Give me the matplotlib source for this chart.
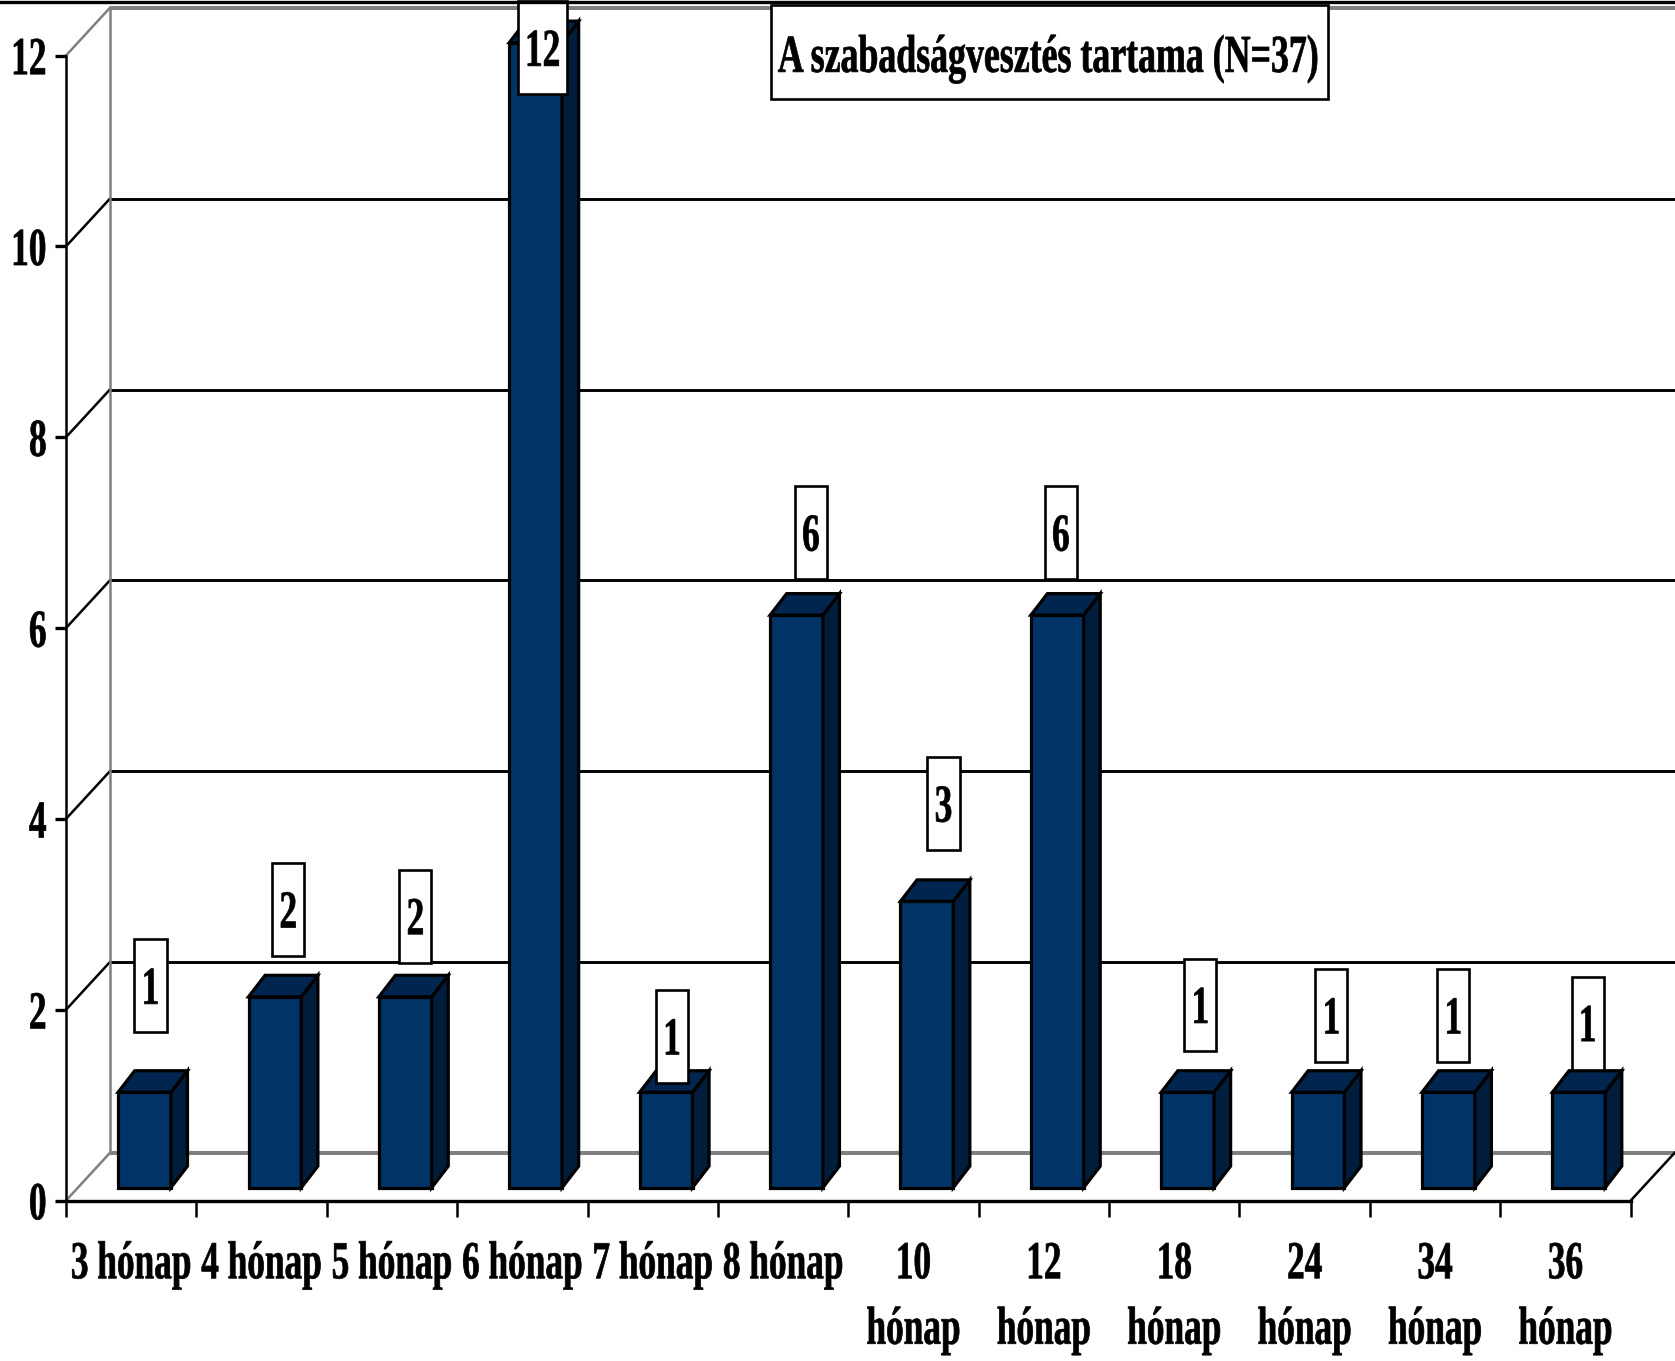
import matplotlib
matplotlib.use("Agg")
import matplotlib.pyplot as plt
from matplotlib.lines import Line2D
from matplotlib.patches import Polygon, Rectangle
from matplotlib.patheffects import AbstractPathEffect
from matplotlib.transforms import Affine2D

categories = ["3 hónap", "4 hónap", "5 hónap", "6 hónap", "7 hónap", "8 hónap",
              "10\nhónap", "12\nhónap", "18\nhónap", "24\nhónap", "34\nhónap", "36\nhónap"]
values = [1, 2, 2, 12, 1, 6, 3, 6, 1, 1, 1, 1]
y_ticks = [0, 2, 4, 6, 8, 10, 12]
title = "A szabadságvesztés tartama (N=37)"

# where the value boxes sit relative to their bar (the original has them hand placed)
label_x = [0.648, 0.705, 0.68, 0.656, 0.648, 0.713, 0.73, 0.63, 0.70, 0.705, 0.64, 0.67]
label_dy = [1.25, 1.05, 0.98, 0.08, 0.72, 1.0, 1.16, 1.0, 1.05, 0.94, 0.94, 0.86]

# fake 3d settings, in data units
wall_dx, wall_dy = 0.337, 0.5
bar_dx, bar_dy = 0.127, 0.225
bar_left, bar_width, bar_base = 0.40, 0.405, 0.136

front_color = "#003366"
side_color = "#001E3C"
top_color = "#00264F"
grey = "#808080"


class Tall(AbstractPathEffect):
    # the original text is a condensed Times bold: keep the width of a small
    # font and stretch the glyphs upward around the middle of the digits
    def __init__(self, sy, stroke=0.5):
        super().__init__()
        self.sy = sy
        self.stroke = stroke

    def draw_path(self, renderer, gc, tpath, affine, rgbFace=None):
        mid = 33.8  # half a digit height, text paths are in size 100 units
        stretch = Affine2D().translate(0, -mid).scale(1, self.sy).translate(0, mid)
        gc0 = renderer.new_gc()
        gc0.copy_properties(gc)
        gc0.set_foreground(rgbFace)
        gc0.set_linewidth(self.stroke)
        renderer.draw_path(gc0, tpath, stretch + affine, rgbFace)
        gc0.restore()


plt.rcParams["font.family"] = "Liberation Serif"
plt.rcParams["font.weight"] = "bold"
font_size = 25.4
tall = 1.515

fig = plt.figure(figsize=(16.75, 13.61), dpi=100)
ax = fig.add_axes([0, 0, 1, 1])
ax.set_xlim(-0.506, 12.34)
ax.set_ylim(-1.681, 12.582)

# walls and gridlines
for v in y_ticks:
    color = grey if v in (0, 12) else "black"
    lw = 2.9 if v in (0, 12) else 2.1
    ax.plot([wall_dx, 12 + wall_dx], [v + wall_dy, v + wall_dy], color=color, lw=lw,
            solid_capstyle="butt", zorder=1)
    ax.plot([0, wall_dx], [v, v + wall_dy], color=color, lw=1.8, zorder=1)
ax.plot([wall_dx, wall_dx], [wall_dy, 12 + wall_dy], color=grey, lw=1.8, zorder=1)
ax.plot([12, 12 + wall_dx], [0, wall_dy], color="black", lw=1.8, zorder=1)

# bars
ax.bar([i + bar_left for i in range(len(values))], values, width=bar_width, bottom=bar_base,
       align="edge", color=front_color, edgecolor="black", linewidth=2.3, zorder=3)
for i, v in enumerate(values):
    x0 = i + bar_left
    x1 = x0 + bar_width
    y0 = bar_base
    y1 = bar_base + v
    side = [(x1, y0), (x1 + bar_dx, y0 + bar_dy), (x1 + bar_dx, y1 + bar_dy), (x1, y1)]
    top = [(x0, y1), (x0 + bar_dx, y1 + bar_dy), (x1 + bar_dx, y1 + bar_dy), (x1, y1)]
    ax.add_patch(Polygon(side, facecolor=side_color, edgecolor="black", lw=2.3, zorder=3))
    ax.add_patch(Polygon(top, facecolor=top_color, edgecolor="black", lw=2.3, zorder=3))

# value boxes
for i, v in enumerate(values):
    cx = i + label_x[i]
    cy = v + label_dy[i]
    w = 0.377 if v >= 10 else 0.246
    ax.add_patch(Rectangle((cx - w / 2, cy - 0.487), w, 0.974, facecolor="white",
                           edgecolor="black", lw=1.9, zorder=4))
    ax.text(cx, cy - 0.035, str(v), ha="center", va="center", fontsize=font_size, zorder=5,
            path_effects=[Tall(tall)])

# title box
ax.add_patch(Rectangle((5.41, 11.54), 4.27, 0.99, facecolor="white", edgecolor="black",
                       lw=1.9, zorder=4))
ax.text(7.54, 11.98, title, ha="center", va="center", fontsize=25.8, zorder=5,
        path_effects=[Tall(1.49)])

# axes
for name in ("top", "right"):
    ax.spines[name].set_visible(False)
ax.spines["left"].set_position(("data", 0))
ax.spines["left"].set_bounds(0, 12)
ax.spines["left"].set_linewidth(1.8)
ax.spines["bottom"].set_position(("data", 0))
ax.spines["bottom"].set_bounds(0, 12)
ax.spines["bottom"].set_linewidth(2.4)
ax.set_yticks(y_ticks)
ax.tick_params(axis="y", direction="out", length=8, width=2.4, pad=6, labelsize=font_size)
for label in ax.get_yticklabels():
    label.set_path_effects([Tall(tall)])
ax.set_xticks(range(len(values) + 1))
ax.set_xticklabels([])
ax.tick_params(axis="x", which="major", direction="out", length=11.5, width=1.8)
ax.set_xticks([i + 0.5 for i in range(len(values))], minor=True)
ax.set_xticklabels(categories, minor=True, fontsize=font_size, linespacing=2.3)
ax.tick_params(axis="x", which="minor", length=0, pad=33.5)
for label in ax.get_xticklabels(minor=True):
    label.set_path_effects([Tall(tall)])

# black rule along the top of the slide
fig.add_artist(Line2D([0, 1], [0.9982, 0.9982], color="black", lw=2.4))

fig.savefig("out.png", dpi=100)
